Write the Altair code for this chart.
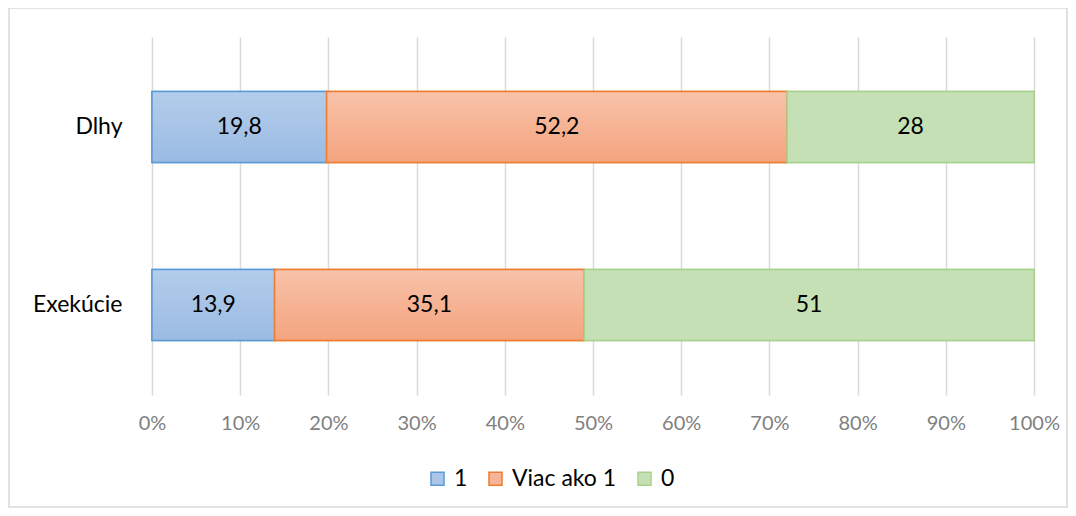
import altair as alt
import pandas as pd

categories = ["Dlhy", "Exekúcie"]
series = ["1", "Viac ako 1", "0"]
values_1 = [19.8, 13.9]
values_viac = [52.2, 35.1]
values_0 = [28, 51]

rows = []
for i, cat in enumerate(categories):
    vals = [values_1[i], values_viac[i], values_0[i]]
    total = sum(vals)
    start = 0.0
    for s, v in zip(series, vals):
        rows.append({
            "cat": cat, "series": s, "value": v,
            "start": start / total, "end": (start + v) / total,
            "mid": (start + v / 2) / total,
            "label": (f"{v:g}").replace(".", ","),
        })
        start += v
df = pd.DataFrame(rows)

fills = ["#a9c5e8", "#f6b597", "#c5e0b4"]
strokes = ["#5b9bd5", "#ed7d31", "#a9d18e"]
grads = [("#b3cdeb", "#9bbbe3"), ("#f8c2a9", "#f4a47f"), ("#c5e0b4", "#c5e0b4")]

FONT = "Lato"
W, H = 882, 358
base = alt.Chart(df)

y_enc = alt.Y("cat:N", sort=categories, title=None,
              scale=alt.Scale(paddingInner=0.6, paddingOuter=0.306),
              axis=alt.Axis(domain=False, ticks=False, labelFontSize=23,
                            labelColor="#000000", labelPadding=30,
                            labelFont=FONT))
x_enc = alt.X("start:Q", title=None,
              scale=alt.Scale(domain=[0, 1], nice=False),
              axis=alt.Axis(format="%", values=[i / 10 for i in range(11)],
                            domain=False, ticks=False, grid=True,
                            gridColor="#d9d9d9", gridWidth=1.5,
                            labelFontSize=20, labelColor="#808080",
                            labelFlush=False,
                            labelPadding=18, labelFont=FONT))

legend_bars = base.mark_bar(strokeWidth=1.5).encode(
    x=x_enc, x2="end:Q", y=y_enc,
    fill=alt.Fill("series:N", sort=series, title=None,
                  scale=alt.Scale(domain=series, range=fills),
                  legend=alt.Legend(orient="none", direction="horizontal",
                                    legendX=274, legendY=430,
                                    symbolType="square", symbolSize=170,
                                    symbolStrokeWidth=1.5,
                                    labelFontSize=23, labelFont=FONT,
                                    labelColor="#000000", columnPadding=16,
                                    labelOffset=5)),
    stroke=alt.Stroke("series:N", sort=series,
                      scale=alt.Scale(domain=series, range=strokes),
                      legend=None),
)

layers = [legend_bars]
for s, (g1, g2), sc in zip(series, grads, strokes):
    layers.append(
        base.transform_filter(alt.datum.series == s).mark_bar(
            stroke=sc, strokeWidth=1.5,
            fill=alt.Gradient(gradient="linear", x1=0, y1=0, x2=0, y2=1,
                              stops=[alt.GradientStop(color=g1, offset=0),
                                     alt.GradientStop(color=g2, offset=1)]),
        ).encode(x=alt.X("start:Q"), x2="end:Q", y=alt.Y("cat:N", sort=categories))
    )

labels = base.mark_text(fontSize=23, font=FONT, color="#000000").encode(
    x="mid:Q", y=alt.Y("cat:N", sort=categories), text="label:N")
layers.append(labels)

frame = alt.Chart(pd.DataFrame({"k": [0]})).mark_rect(
    fill=None, stroke="#d9d9d9", strokeWidth=1.5).encode(
    x=alt.value(-143), x2=alt.value(1067 - 152),
    y=alt.value(-29), y2=alt.value(507 - 37))

chart = alt.layer(frame, *layers).properties(
    width=W, height=H,
    autosize=alt.AutoSizeParams(type="none"),
    padding={"left": 144, "top": 29, "right": 34, "bottom": 113},
    background="white",
).configure_view(stroke=None)

chart.save("out.html", embed_options={"renderer": "svg", "actions": False})
